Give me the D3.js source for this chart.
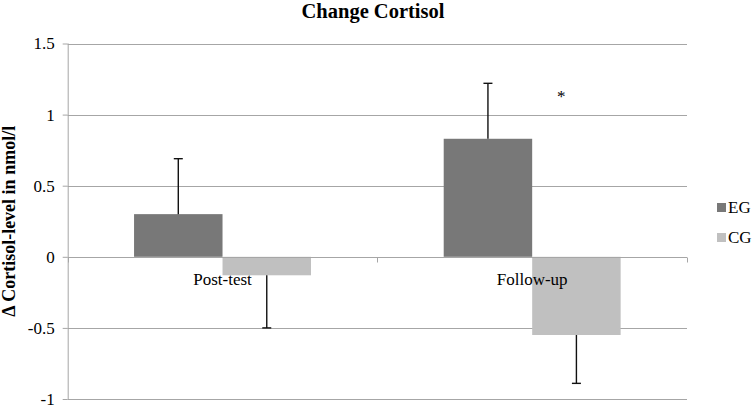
<!DOCTYPE html>
<html>
<head>
<meta charset="utf-8">
<script src="https://cdn.jsdelivr.net/npm/d3@7"></script>
<style>
  html, body { margin: 0; padding: 0; background: #ffffff; }
  svg { display: block; }
  svg text { font-family: "Liberation Serif", "Times New Roman", serif; }
</style>
</head>
<body>
<div id="chart"></div>
<script>
// ---- data ----
const categories = ["Post-test", "Follow-up"];
const seriesNames = ["EG", "CG"];
const egValues = [0.30, 0.83];
const cgValues = [-0.13, -0.55];
const egErrors = [0.39, 0.39];
const cgErrors = [0.37, 0.34];
const yTickValues = [1.5, 1, 0.5, 0, -0.5, -1];
const yTickLabels = ["1.5", "1", "0.5", "0", "-0.5", "-1"];
const titleText = "Change Cortisol";
const yAxisTitle = "\u0394 Cortisol-level in nmol/l";
const annotations = [{ category: "Follow-up", value: 1.17, text: "*" }];

const seriesColors = { EG: "#787878", CG: "#c0c0c0" };
const FONT = "'Liberation Serif', 'Times New Roman', serif";

const W = 756, H = 407;
const svg = d3.select("#chart").append("svg").attr("width", W).attr("height", H)
  .attr("font-family", FONT);

const plot = { left: 67.7, right: 687, top: 43.5, bottom: 399 };

const y = d3.scaleLinear().domain([-1, 1.5]).range([plot.bottom, plot.top]);
const x0 = d3.scaleBand().domain(categories).range([plot.left, plot.right]).paddingInner(0).paddingOuter(0);
const x1 = d3.scaleBand().domain(seriesNames).range([0, x0.bandwidth()]).paddingInner(0).paddingOuter(0.75);

const rows = [];
categories.forEach((c, i) => {
  rows.push({ cat: c, s: "EG", v: egValues[i], e: egErrors[i] });
  rows.push({ cat: c, s: "CG", v: cgValues[i], e: cgErrors[i] });
});

// title
svg.append("text").attr("x", 373).attr("y", 18).attr("text-anchor", "middle")
  .attr("font-size", 20.5).attr("font-weight", "bold").attr("fill", "#000").text(titleText);

// gridlines
svg.append("g").selectAll("line").data(yTickValues.filter(v => v !== 0)).join("line")
  .attr("x1", plot.left).attr("x2", plot.right)
  .attr("y1", d => Math.round(y(d)) + 0.5).attr("y2", d => Math.round(y(d)) + 0.5)
  .attr("stroke", "#a6a6a6").attr("stroke-width", 1);

// y axis
const yAxis = d3.axisLeft(y).tickValues(yTickValues).tickSize(5).tickPadding(8)
  .tickFormat((d, i) => yTickLabels[i]);
const yg = svg.append("g").attr("transform", `translate(${plot.left},0)`).call(yAxis)
  .attr("font-family", FONT).attr("font-size", 17);
yg.select(".domain").attr("stroke", "#a6a6a6").attr("d", `M0.5,${plot.top}V${plot.bottom}`);
yg.selectAll(".tick line").attr("stroke", "#a6a6a6");
yg.selectAll(".tick text").attr("fill", "#000");

// y axis title
svg.append("text").attr("transform", `translate(15,${(plot.top + plot.bottom) / 2}) rotate(-90)`)
  .attr("text-anchor", "middle").attr("font-size", 18).attr("font-weight", "bold")
  .attr("fill", "#000").text(yAxisTitle);

// bars
svg.append("g").selectAll("rect").data(rows).join("rect")
  .attr("x", d => x0(d.cat) + x1(d.s))
  .attr("width", x1.bandwidth())
  .attr("y", d => y(Math.max(0, d.v)))
  .attr("height", d => Math.abs(y(d.v) - y(0)))
  .attr("fill", d => seriesColors[d.s]);

// error bars (outward only)
const eb = svg.append("g").attr("stroke", "#111").attr("stroke-width", 1.4);
rows.forEach(d => {
  const cx = x0(d.cat) + x1(d.s) + x1.bandwidth() / 2;
  const end = d.v >= 0 ? d.v + d.e : d.v - d.e;
  eb.append("line").attr("x1", cx).attr("x2", cx).attr("y1", y(d.v)).attr("y2", y(end));
  eb.append("line").attr("x1", cx - 4.5).attr("x2", cx + 4.5).attr("y1", y(end)).attr("y2", y(end));
});

// category axis at zero
const zy = Math.round(y(0)) + 0.5;
const cg = svg.append("g");
cg.append("line").attr("x1", plot.left).attr("x2", plot.right).attr("y1", zy).attr("y2", zy)
  .attr("stroke", "#a6a6a6");
const boundaries = categories.map(c => x0(c)).concat([x0(categories[categories.length - 1]) + x0.bandwidth()]);
cg.selectAll("line.t").data(boundaries).join("line").attr("class", "t")
  .attr("x1", d => Math.round(d) + 0.5).attr("x2", d => Math.round(d) + 0.5)
  .attr("y1", zy).attr("y2", zy + 5).attr("stroke", "#a6a6a6");
cg.selectAll("text").data(categories).join("text")
  .attr("x", d => x0(d) + x0.bandwidth() / 2).attr("y", zy + 27)
  .attr("text-anchor", "middle").attr("font-size", 17).attr("fill", "#000").text(d => d);

// annotation
svg.append("g").selectAll("text").data(annotations).join("text")
  .attr("x", d => x0(d.category) + x0.bandwidth() / 2 + 29)
  .attr("y", d => y(d.value) + 12)
  .attr("text-anchor", "middle").attr("font-size", 17).attr("fill", "#000").text(d => d.text);

// legend
const lg = svg.append("g").attr("transform", "translate(717,203)");
seriesNames.forEach((s, i) => {
  lg.append("rect").attr("x", 0).attr("y", i * 30).attr("width", 9).attr("height", 9).attr("fill", seriesColors[s]);
  lg.append("text").attr("x", 11).attr("y", i * 30 + 10).attr("font-size", 17).attr("fill", "#000").text(s);
});
</script>
</body>
</html>
